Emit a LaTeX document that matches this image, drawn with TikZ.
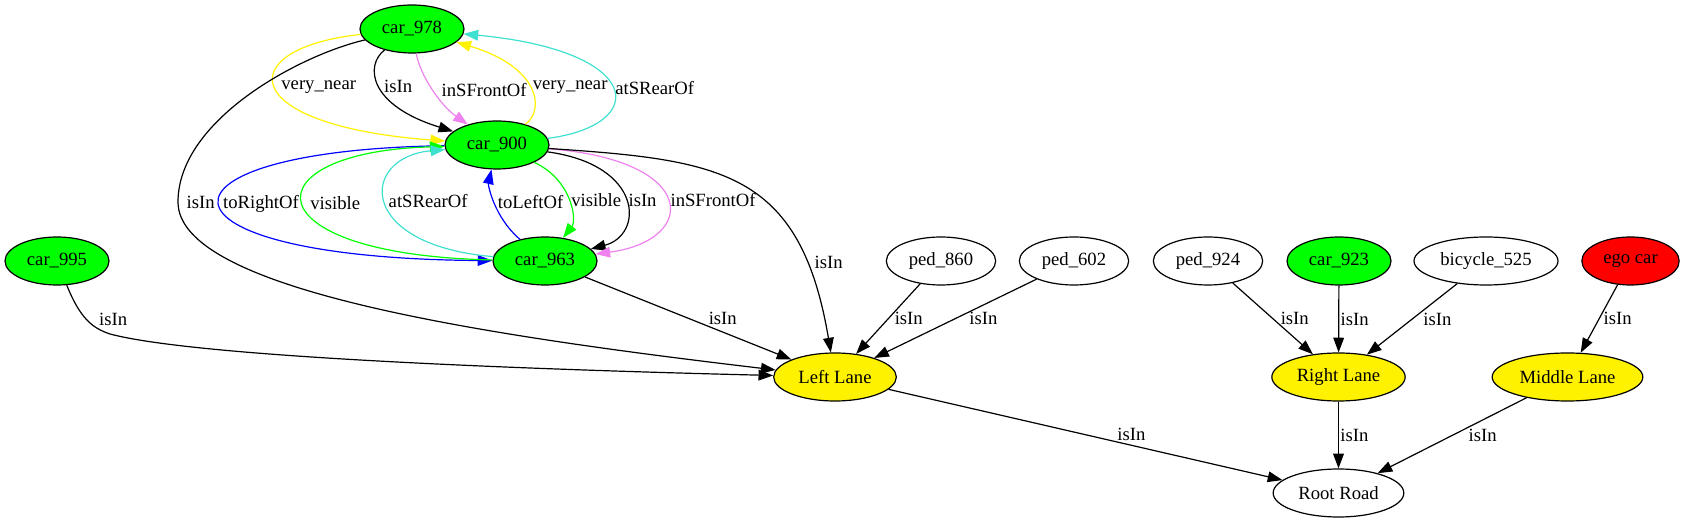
\documentclass[tikz,border=0pt]{standalone}
\usepackage{fontspec}
\setmainfont{Liberation Serif}
\newfontfamily\gvfont{Liberation Serif}
\usepackage{tikz}
\usetikzlibrary{shapes,arrows,arrows.meta,calc,positioning,shapes.geometric}
\definecolor{gvviolet}{HTML}{EE82EE}
\definecolor{gvturquoise}{HTML}{40E0D0}
\tikzset{
>={Triangle[length=11pt,width=8pt]},
  obj/.style={
    ellipse, 
    draw=black, line width=.9pt,
    minimum height=36pt, 
    inner sep=0pt,
    text centered,
    font=\gvfont\fontsize{14}{16}\selectfont},
  car/.style={obj, fill=green},
  lane/.style={obj, fill=yellow},
  entity/.style={obj, fill=white},
  rel/.style={draw, ->, line width=.9pt},
  rellabel/.style={inner sep=1pt, text=black, font=\gvfont\fontsize{14}{16}\selectfont},
}
\begin{document}
\begin{tikzpicture}[
    x=0.75pt, y=-0.75pt
    ]
	\useasboundingbox (0,0) rectangle (1685,523);

	\node[car, minimum width=78pt] (car978) at (412,29) {car\_978};
	\node[car, minimum width=78pt] (car900) at (497,145) {car\_900};
	\node[car, minimum width=78pt] (car963) at (545,261) {car\_963};
	\node[car, minimum width=78pt] (car995) at (57,261) {car\_995};
	\node[entity, minimum width=82pt] (ped860) at (941,261) {ped\_860};
	\node[entity, minimum width=82pt] (ped602) at (1074,261) {ped\_602};
	\node[entity, minimum width=82pt] (ped924) at (1208,261) {ped\_924};
	\node[car, minimum width=78pt] (car923) at (1339,261) {car\_923};
	\node[entity, minimum width=108pt] (bicycle525) at (1486,261) {bicycle\_525};
	\node[obj, fill=red, minimum width=73pt] (egocar) at (1630.5,261) {ego car};

	\node[lane, minimum width=92pt] (leftlane) at (835,377) {Left Lane};
	\node[lane, minimum width=100pt] (rightlane) at (1338.5,377) {Right Lane};
	\node[lane, minimum width=113pt] (middlelane) at (1567.5,377) {Middle Lane};
	\node[entity, minimum width=98pt] (rootroad) at (1338.5,493) {Root Road};

	% car_978 <-> car_900
	\draw[rel, yellow] (car978) .. controls (233,48) and (233,125) .. (car900)
		node[rellabel, pos=.5, right=3pt] {very\_near};
	\draw[rel] (car978) .. controls (365,65) and (368,105) .. (car900)
		node[rellabel, pos=.5, right=2pt] {isIn};
	\draw[rel, gvviolet] (car978) .. controls (420,75) and (440,105) .. (car900)
		node[rellabel, pos=.5, right=5pt] {inSFrontOf};
	\draw[rel, yellow] (car900) .. controls (545,110) and (540,67) .. (car978)
		node[rellabel, pos=.5, right=1pt] {very\_near};
	\draw[rel, gvturquoise] (car900) .. controls (650,125) and (645,51) .. (car978)
		node[rellabel, pos=.5, right=1pt] {atSRearOf};
	\draw[rel] (car978) .. controls (300,55) and (178,120) .. (178,202)
		node[rellabel, right=5pt] {isIn}
		.. controls (178,290) and (480,335) .. (leftlane);

	% car_900 <-> car_963
	\draw[rel, blue] (car900) .. controls (137,150) and (137,258) .. (car963)
		node[rellabel, pos=.5, right=1pt] {toRightOf};
	\draw[rel, green] (car963) .. controls (248,255) and (248,152) .. (car900)
		node[rellabel, pos=.5, right=4pt] {visible};
	\draw[rel, gvturquoise] (car963) .. controls (355,245) and (360,157) .. (car900)
		node[rellabel, pos=.5, right=1pt] {atSRearOf};
	\draw[rel, blue] (car963) .. controls (494,217) and (488,185) .. (car900)
		node[rellabel, pos=.5, right=1pt] {toLeftOf};
	\draw[rel, green] (car900) .. controls (572,180) and (577,220) .. (car963)
		node[rellabel, pos=.5, right=1pt] {visible};
	\draw[rel] (car900) .. controls (644,165) and (644,235) .. (car963)
		node[rellabel, pos=.5, right=1pt] {isIn};
	\draw[rel, gvviolet] (car900) .. controls (699,160) and (699,240) .. (car963)
		node[rellabel, pos=.5, right=1pt] {inSFrontOf};

	% into the lanes
	\draw[rel] (car900) .. controls (720,160) and (800,170) .. (leftlane)
		node[rellabel, pos=.8, right=5pt] {isIn};
	\draw[rel] (car963) -- (leftlane) node[rellabel, pos=.5, right=14pt] {isIn};
	\draw[rel] (car995) .. controls (80,318) and (92,328) .. (110,334)
		node[rellabel, pos=.5, right=8pt] {isIn}
		.. controls (200,358) and (550,370) .. (leftlane);
	\draw[rel] (ped860) -- (leftlane) node[rellabel, pos=.5, right=3.5pt] {isIn};
	\draw[rel] (ped602) -- (leftlane) node[rellabel, pos=.5, right=9pt] {isIn};
	\draw[rel] (ped924) -- (rightlane) node[rellabel, pos=.5, right=4.5pt] {isIn};
	\draw[rel] (car923) -- (rightlane) node[rellabel, pos=.5, right=0pt] {isIn};
	\draw[rel] (bicycle525) -- (rightlane) node[rellabel, pos=.5, right=7pt] {isIn};
	\draw[rel] (egocar) -- (middlelane) node[rellabel, pos=.5, right=2pt] {isIn};

	% lanes into the road
	\draw[rel] (leftlane) -- (rootroad) node[rellabel, pos=.5, right=22.5pt] {isIn};
	\draw[rel] (rightlane) -- (rootroad) node[rellabel, pos=.5, right=0pt] {isIn};
	\draw[rel] (middlelane) -- (rootroad) node[rellabel, pos=.5, right=11pt] {isIn};

\end{tikzpicture}
\end{document}
